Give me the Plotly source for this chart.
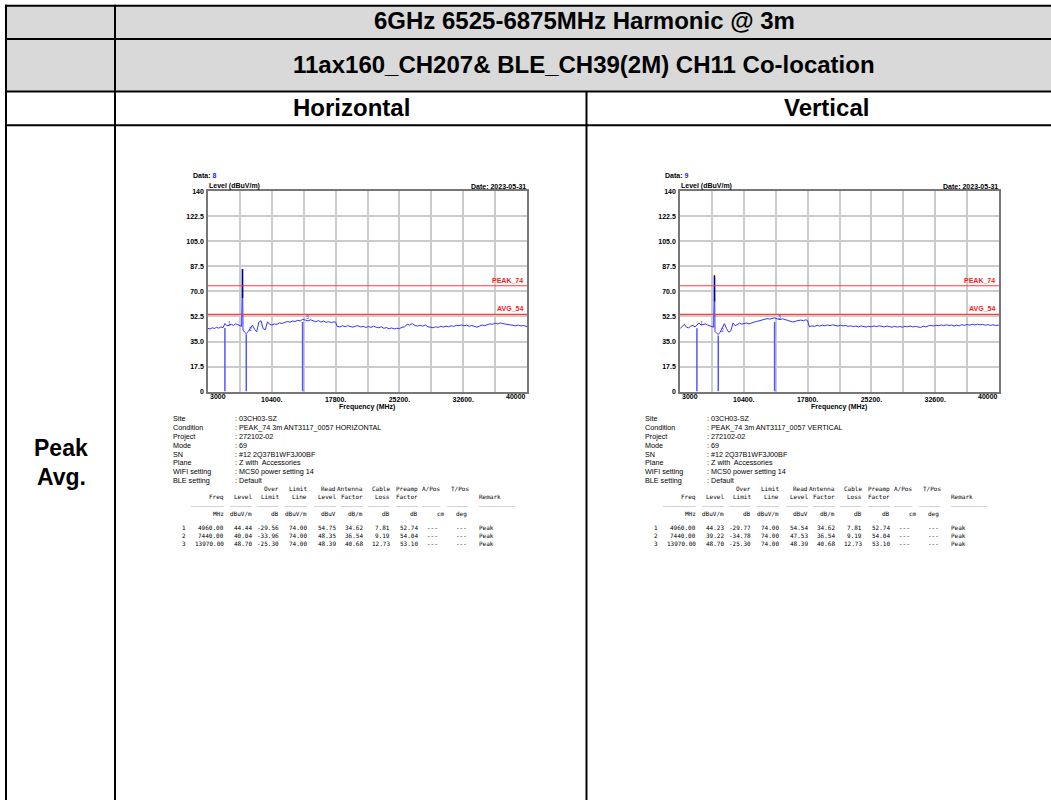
import plotly.graph_objects as go

W, H = 1051, 800

# ---- spectrum sweep (MHz / dBuV/m) ----
sweep_mhz = [
    3000, 3250, 3500, 3750, 4000, 4250, 4500, 4750, 4960, 5200,
    5450, 5700, 5950, 6200, 6450, 6700, 6900, 6950, 6980, 7000,
    7020, 7060, 7250, 7440, 7650, 7900, 8150, 8400, 8650, 8900,
    9150, 9400, 9650, 9900, 10150, 10400, 10700, 11000, 11300, 11600,
    11900, 12200, 12500, 12800, 13100, 13400, 13700, 13970, 14300, 14600,
    14900, 15200, 15500, 15800, 16100, 16400, 16700, 17000, 17300, 17600,
    17800, 18000, 18300, 18600, 18900, 19200, 19500, 19800, 20100, 20400,
    20700, 21000, 21300, 21600, 21900, 22200, 22500, 22800, 23100, 23400,
    23700, 24000, 24300, 24600, 24900, 25200, 25500, 25800, 26100, 26400,
    26700, 27000, 27300, 27600, 27900, 28200, 28500, 28800, 29100, 29400,
    29700, 30000, 30300, 30600, 30900, 31200, 31500, 31800, 32100, 32400,
    32700, 33000, 33300, 33600, 33900, 34200, 34500, 34800, 35100, 35400,
    35700, 36000, 36300, 36600, 36900, 37200, 37500, 37800, 38100, 38400,
    38700, 39000, 39300, 39600, 40000,
]
horizontal_dbuv = [
    44.2, 43.8, 44.6, 44.1, 45.0, 44.3, 45.2, 44.7, 47.6, 46.0,
    46.3, 47.0, 46.2, 47.4, 46.8, 46.0, 45.6, 65.4, 65.4, 85.7,
    47.0, 43.0, 41.5, 40.5, 42.0, 44.8, 46.5, 43.5, 41.8, 48.5,
    49.5, 44.0, 43.2, 48.8, 47.0, 46.5, 47.3, 47.0, 48.0, 47.6,
    48.4, 49.0, 48.5, 49.3, 49.0, 49.8, 49.4, 50.5, 50.0, 49.4,
    50.2, 49.5, 48.8, 49.6, 48.6, 49.3, 48.4, 48.9, 48.2, 48.8,
    48.5, 45.5, 45.2, 46.0, 45.3, 46.1, 45.4, 45.0, 45.8, 46.0,
    45.2, 45.6, 44.8, 45.5, 44.9, 45.7, 45.0, 44.6, 45.3, 44.2,
    44.8, 43.9, 44.5, 43.8, 44.3, 44.0, 44.9, 45.3, 47.0, 46.5,
    47.6, 46.2, 45.8, 46.4, 45.7, 46.6, 45.4, 45.0, 44.6, 45.3,
    44.9, 45.6, 45.1, 45.7, 45.3, 46.0, 45.6, 46.3, 46.1, 46.6,
    46.0, 46.4, 45.7, 46.2, 45.4, 45.0, 45.8, 46.5, 46.1, 46.9,
    47.4, 47.0, 47.8, 47.3, 48.0, 47.5, 47.2, 46.8, 47.0, 46.4,
    46.0, 46.5, 45.9, 46.2, 45.4,
]
vertical_dbuv = [
    44.0, 45.5, 47.0, 45.0, 44.6, 45.8, 46.3, 45.2, 46.5, 48.0,
    46.5, 46.8, 47.3, 46.5, 45.8, 45.4, 45.0, 63.0, 63.0, 81.1,
    44.0, 42.0, 40.8, 40.0, 41.5, 44.8, 47.5, 44.0, 41.5, 42.5,
    48.0, 46.0, 47.0, 47.8, 47.2, 47.6, 47.9, 47.3, 48.2, 48.6,
    49.0, 49.6, 50.1, 50.6, 51.0, 50.7, 51.2, 51.5, 50.8, 50.3,
    50.9, 50.2, 49.5, 49.0, 48.6, 49.2, 49.6, 50.0, 49.5, 50.2,
    49.6, 45.3, 46.0, 45.6, 46.3, 45.8, 46.4, 46.0, 46.6, 46.1,
    46.7, 46.3, 45.8, 46.4, 45.9, 46.2, 45.6, 46.0, 45.4, 45.8,
    45.2, 45.9, 45.5, 45.1, 45.7, 45.3, 45.9, 45.4, 46.0, 45.6,
    45.2, 45.8, 45.4, 45.0, 45.6, 45.1, 45.5, 45.0, 45.6, 45.3,
    45.8, 45.2, 45.6, 45.1, 44.8, 45.7, 45.2, 45.9, 46.3, 45.8,
    46.4, 46.0, 46.6, 46.1, 46.7, 46.2, 46.5, 45.9, 46.4, 46.0,
    46.8, 46.3, 46.9, 46.5, 47.0, 46.6, 47.1, 46.7, 46.9, 46.4,
    46.8, 46.3, 46.7, 46.2, 46.5,
]

spike_mhz = 7000
spike_base_dbuv = [65.4, 63.0]
spike_peak_dbuv = [85.7, 81.1]

limit_names = ["PEAK_74", "AVG_54"]
limit_dbuv = [74, 54]

x_tick_vals = [3000, 6700, 10400, 14100, 17800, 21500, 25200, 28900, 32600, 36300, 40000]
x_tick_text = ["", "", "10400.", "", "17800.", "", "25200.", "", "32600.", "", ""]
y_tick_vals = [0, 17.5, 35, 52.5, 70, 87.5, 105, 122.5, 140]
y_tick_text = ["0", "17.5", "35.0", "52.5", "70.0", "87.5", "105.0", "122.5", "140"]

# ---- marker table ----
marker_no = [1, 2, 3]
marker_mhz = [4960.00, 7440.00, 13970.00]
limit_line = [74.00, 74.00, 74.00]
antenna_factor = [34.62, 36.54, 40.68]
cable_loss = [7.81, 9.19, 12.73]
preamp_factor = [52.74, 54.04, 53.10]
h_level = [44.44, 40.04, 48.70]
h_over = [-29.56, -33.96, -25.30]
h_read = [54.75, 48.35, 48.39]
v_level = [44.23, 39.22, 48.70]
v_over = [-29.77, -34.78, -25.30]
v_read = [54.54, 47.53, 48.39]

info_labels = ["Site", "Condition", "Project", "Mode", "SN", "Plane", "WIFI setting", "BLE setting"]
h_info = ["03CH03-SZ", "PEAK_74 3m ANT3117_0057 HORIZONTAL", "272102-02", "69",
          "#12 2Q37B1WF3J00BF", "Z with  Accessories", "MCS0 power setting 14", "Default"]
v_info = ["03CH03-SZ", "PEAK_74 3m ANT3117_0057 VERTICAL", "272102-02", "69",
          "#12 2Q37B1WF3J00BF", "Z with  Accessories", "MCS0 power setting 14", "Default"]

head_top = ["", "", "Over", "Limit", "Read", "Antenna", "Cable", "Preamp", "A/Pos", "T/Pos"]
head_mid = ["Freq", "Level", "Limit", "Line", "Level", "Factor", "Loss", "Factor", "", ""]
head_unit = ["MHz", "dBuV/m", "dB", "dBuV/m", "dBuV", "dB/m", "dB", "dB", "cm", "deg"]

ARIAL = "Arial, Liberation Sans, sans-serif"
MONO = "DejaVu Sans Mono, Liberation Mono, monospace"
BLUE = "#3434ff"
MONO_SIZE = 6.0

charts = [
    dict(left=208, data_no="8", trace=horizontal_dbuv, level=h_level, over=h_over,
         read=h_read, info=h_info),
    dict(left=680, data_no="9", trace=vertical_dbuv, level=v_level, over=v_over,
         read=v_read, info=v_info),
]
PLOT_W, PLOT_TOP, PLOT_BOT = 319, 189, 391


def fx(x):
    return x / W


def fy(y):
    return 1 - y / H


fig = go.Figure()
annotations = []
shapes = []


def note(text, x, y, size=7, anchor="left", bold=False, color="black", family=ARIAL):
    annotations.append(dict(
        text=text, x=fx(x), y=fy(y), xref="paper", yref="paper",
        xanchor=anchor, yanchor="middle", showarrow=False, borderpad=0,
        font=dict(size=size, color=color, family=family,
                  weight="bold" if bold else "normal"),
    ))


for i, c in enumerate(charts):
    n = "" if i == 0 else str(i + 1)
    xa, ya = "x" + n, "y" + n
    L = c["left"]

    fig.add_trace(go.Scatter(x=sweep_mhz, y=c["trace"], mode="lines",
                             line=dict(color=BLUE, width=1), xaxis=xa, yaxis=ya,
                             showlegend=False))
    fig.add_trace(go.Scatter(x=[spike_mhz, spike_mhz], y=[spike_base_dbuv[i], spike_peak_dbuv[i]],
                             mode="lines", line=dict(color="#00008b", width=1.6),
                             xaxis=xa, yaxis=ya, showlegend=False))
    for f, lv in zip(marker_mhz, c["level"]):
        fig.add_trace(go.Scatter(x=[f, f], y=[0, lv], mode="lines",
                                 line=dict(color="#5555ff", width=1.5),
                                 xaxis=xa, yaxis=ya, showlegend=False))
    for k, f, lv in zip(marker_no, marker_mhz, c["level"]):
        annotations.append(dict(text=str(k), x=f, y=lv, xref=xa, yref=ya, xanchor="left",
                                yanchor="bottom", showarrow=False, xshift=1,
                                font=dict(size=5, color=BLUE, family=ARIAL)))
    for name, lim in zip(limit_names, limit_dbuv):
        fig.add_trace(go.Scatter(x=[3000, 40000], y=[lim, lim], mode="lines",
                                 line=dict(color="#ff3b3b", width=1.2),
                                 xaxis=xa, yaxis=ya, showlegend=False))
        annotations.append(dict(text=name, x=40000, y=lim, xref=xa, yref=ya,
                                xanchor="right", yanchor="bottom", showarrow=False,
                                xshift=-2, yshift=0,
                                font=dict(size=7, color="#ff2020", family=ARIAL, weight="bold")))

    axis_common = dict(showline=True, mirror=True, linecolor="#777777", linewidth=1.5,
                       showgrid=True, gridcolor="#cccccc", gridwidth=1.5, zeroline=False,
                       ticks="", tickfont=dict(size=7, family=ARIAL, color="black", weight="bold"))
    fig.update_layout({
        "xaxis" + n: dict(domain=[fx(L), fx(L + PLOT_W)], anchor=ya, range=[3000, 40000],
                          tickmode="array", tickvals=x_tick_vals, ticktext=x_tick_text,
                          ticklabelstandoff=0, **axis_common),
        "yaxis" + n: dict(domain=[fy(PLOT_BOT), fy(PLOT_TOP)], anchor=xa, range=[0, 140],
                          tickmode="array", tickvals=y_tick_vals, ticktext=y_tick_text,
                          ticklabelstandoff=1, **axis_common),
    })

    # chart captions
    note("Data: <span style='color:#2020ff'>" + c["data_no"] + "</span>", L - 16, 173, bold=True)
    note("Level (dBuV/m)", L, 184, bold=True)
    note("Date: 2023-05-31", L + PLOT_W, 184, anchor="right", bold=True)
    note("3000", L + 0.5, 396, bold=True)
    note("40000", L + PLOT_W, 396, anchor="right", bold=True)
    note("Frequency (MHz)", L + 159, 406.5, anchor="center", bold=True)

    # info block
    for k, (lab, val) in enumerate(zip(info_labels, c["info"])):
        y = 418 + k * 9
        note(lab, L - 36, y, size=7.2)
        note(": " + val, L + 26, y, size=7.2)

    # marker table
    col_right = [17, 44.7, 72, 100.3, 128.7, 156, 182.7, 211.3, 231, 260.3]
    head_right = [17, 44.7, 72, 100.3, 128.7, 156, 182.7, 211.3, 233, 262]
    unit_right = [17, 44.7, 72, 100.3, 128.7, 156, 182.7, 211.3, 238, 260.3]
    bars = [9, 6, 6, 6, 6, 6, 6, 6, 5, 6]
    for j in range(10):
        if head_top[j]:
            note(head_top[j], L + head_right[j], 489, size=MONO_SIZE, anchor="right", family=MONO)
        if head_mid[j]:
            note(head_mid[j], L + head_right[j], 497, size=MONO_SIZE, anchor="right", family=MONO)
        note("_" * bars[j], L + head_right[j], 503, size=MONO_SIZE, anchor="right", family=MONO,
             color="#444444")
        note(head_unit[j], L + unit_right[j], 514, size=MONO_SIZE, anchor="right", family=MONO)
    note("Remark", L + 270.3, 497, size=MONO_SIZE, family=MONO)
    note("_" * 10, L + 270.3, 503, size=MONO_SIZE, family=MONO, color="#444444")

    for r in range(3):
        y = 528 + r * 8
        cells = [f"{marker_mhz[r]:.2f}", f"{c['level'][r]:.2f}", f"{c['over'][r]:.2f}",
                 f"{limit_line[r]:.2f}", f"{c['read'][r]:.2f}", f"{antenna_factor[r]:.2f}",
                 f"{cable_loss[r]:.2f}", f"{preamp_factor[r]:.2f}", "---", "---"]
        note(str(marker_no[r]), L - 27.3, y, size=MONO_SIZE, family=MONO)
        for j, t in enumerate(cells):
            note(t, L + col_right[j], y, size=MONO_SIZE, anchor="right", family=MONO)
        note("Peak", L + 270.3, y, size=MONO_SIZE, family=MONO)

# ---- surrounding table ----
shapes.append(dict(type="rect", xref="paper", yref="paper", x0=fx(6), x1=fx(1060),
                   y0=fy(88), y1=fy(2), fillcolor="#d9d9d9", line=dict(width=0), layer="below"))


def hline(y, x0, x1):
    shapes.append(dict(type="line", xref="paper", yref="paper", x0=fx(x0), x1=fx(x1),
                       y0=fy(y), y1=fy(y), line=dict(color="black", width=2)))


def vline(x, y0, y1):
    shapes.append(dict(type="line", xref="paper", yref="paper", x0=fx(x), x1=fx(x),
                       y0=fy(y0), y1=fy(y1), line=dict(color="black", width=2)))


for y in [1.7, 35.3, 88.3, 122.3]:
    hline(y, 5, 1060)
vline(6, 0.7, 810)
vline(115, 0.7, 810)
vline(586.5, 88.3, 810)

note("6GHz 6525-6875MHz Harmonic @ 3m", 584, 17, size=24, anchor="center", bold=True)
note("11ax160_CH207& BLE_CH39(2M) CH11 Co-location", 584, 61, size=24, anchor="center", bold=True)
note("Horizontal", 351, 104, size=24, anchor="center", bold=True)
note("Vertical", 826, 104, size=24, anchor="center", bold=True)
note("Peak", 61, 448, size=23, anchor="center", bold=True)
note("Avg.", 61, 477, size=23, anchor="center", bold=True)

fig.update_layout(
    width=W, height=H, margin=dict(l=0, r=0, t=0, b=0),
    paper_bgcolor="white", plot_bgcolor="white",
    annotations=annotations, shapes=shapes,
)

fig.write_html("out.html", config={"displayModeBar": False},
               post_script="document.body.style.margin='0';")
